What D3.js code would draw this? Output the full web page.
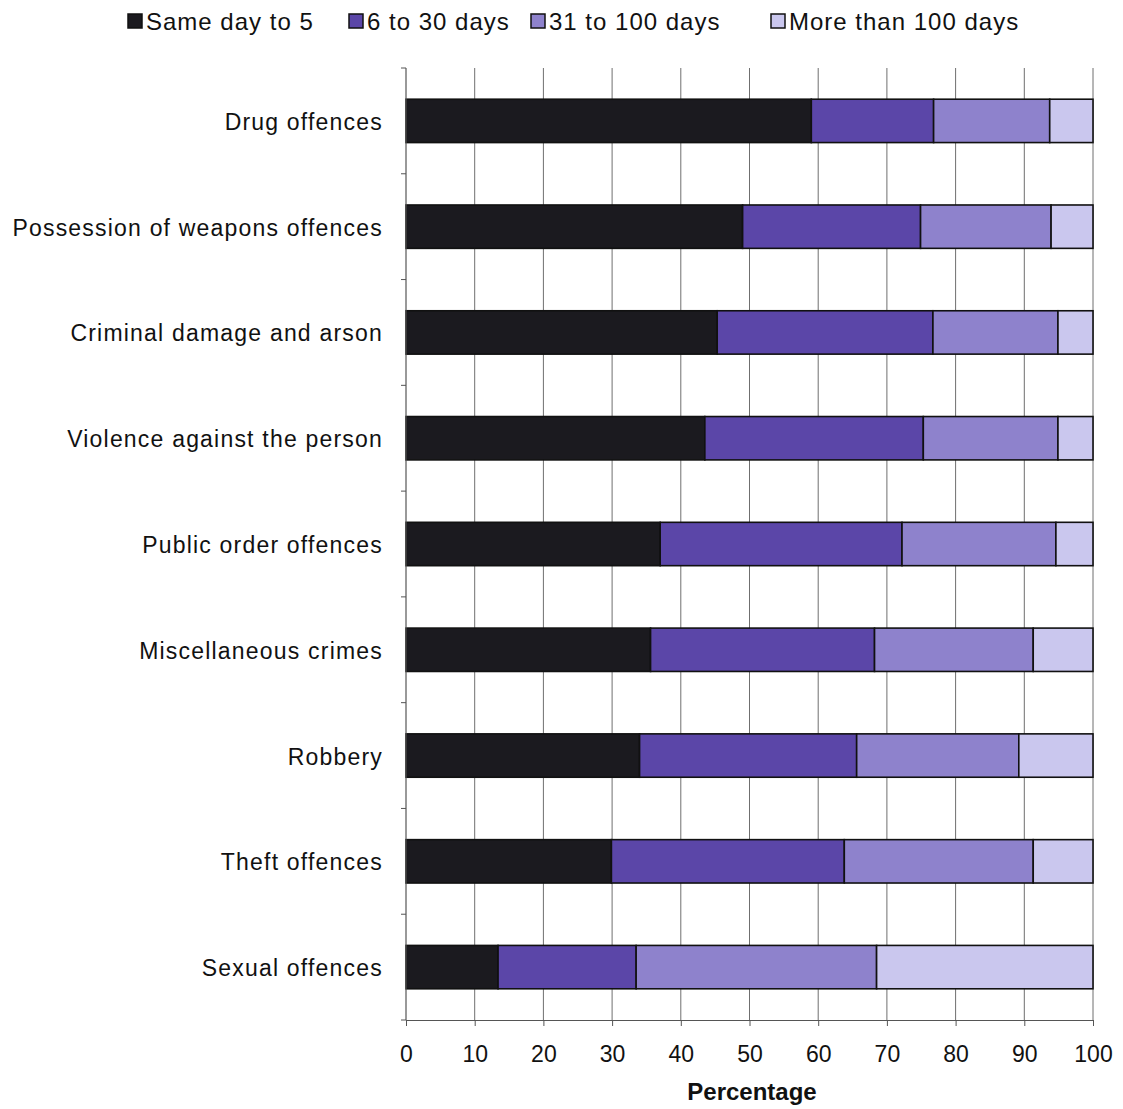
<!DOCTYPE html>
<html><head><meta charset="utf-8">
<script src="https://cdn.jsdelivr.net/npm/d3@7"></script>
<style>body{margin:0;background:#fff;font-family:"Liberation Sans",Arial,sans-serif;}</style>
</head><body>
<svg id="chart" width="1123" height="1109"></svg>
<script>
const categories = ["Drug offences","Possession of weapons offences","Criminal damage and arson","Violence against the person","Public order offences","Miscellaneous crimes","Robbery","Theft offences","Sexual offences"];
const seriesNames = ["Same day to 5","6 to 30 days","31 to 100 days","More than 100 days"];
const sameDayTo5 = [59, 49, 45.3, 43.5, 37, 35.6, 34, 29.9, 13.4];
const days6to30 = [17.8, 25.9, 31.4, 31.8, 35.2, 32.6, 31.6, 33.9, 20.1];
const days31to100 = [16.9, 19, 18.2, 19.6, 22.4, 23.1, 23.6, 27.5, 35];
const moreThan100 = [6.3, 6.1, 5.1, 5.1, 5.4, 8.7, 10.8, 8.7, 31.5];
const xTicks = [0,10,20,30,40,50,60,70,80,90,100];
const colors = ["#1b1a1f","#5b46a8","#8e82cc","#cac7ee"];

const svg = d3.select("#chart");
const x0 = 406, x1 = 1093, yTop = 68, yBot = 1020;
const x = d3.scaleLinear().domain([0,100]).range([x0,x1]);
const y = d3.scaleBand().domain(categories).range([yTop,yBot]).paddingInner(0.59).paddingOuter(0.295);

// gridlines
svg.append("g").selectAll("line").data(xTicks.slice(1)).join("line")
  .attr("x1",d=>x(d)).attr("x2",d=>x(d)).attr("y1",yTop).attr("y2",yBot)
  .attr("stroke","#6f6f6f").attr("stroke-width",1);

const table = categories.map((c,i)=>({cat:c, vals:[sameDayTo5[i],days6to30[i],days31to100[i],moreThan100[i]]}));
const rows = [];
table.forEach(r=>{let acc=0; r.vals.forEach((v,j)=>{rows.push({cat:r.cat,j,start:acc,end:acc+v}); acc+=v;});});

svg.append("g").selectAll("rect").data(rows).join("rect")
  .attr("x",d=>x(d.start)).attr("width",d=>x(d.end)-x(d.start))
  .attr("y",d=>y(d.cat)).attr("height",y.bandwidth())
  .attr("fill",d=>colors[d.j]).attr("stroke","#111").attr("stroke-width",1.6);

// y axis
const yAxis = svg.append("g");
yAxis.append("line").attr("x1",x0).attr("x2",x0).attr("y1",yTop).attr("y2",yBot).attr("stroke","#555").attr("stroke-width",1.2);
const bounds = d3.range(categories.length+1).map(i=>yTop + i*y.step());
yAxis.selectAll("line.tk").data(bounds).join("line").attr("class","tk")
  .attr("x1",x0-5).attr("x2",x0).attr("y1",d=>d).attr("y2",d=>d).attr("stroke","#555");
yAxis.selectAll("text").data(categories).join("text")
  .attr("x",383).attr("y",d=>y(d)+y.bandwidth()/2+1).attr("dy","0.35em")
  .attr("text-anchor","end").attr("font-size",23).attr("letter-spacing","1.2px")
  .attr("fill","#111").text(d=>d);

// x axis
const xAxis = d3.axisBottom(x).tickValues(xTicks).tickSize(6).tickPadding(20);
const gx = svg.append("g").attr("transform",`translate(0,${yBot})`).call(xAxis);
gx.select(".domain").attr("stroke","#555");
gx.selectAll(".tick line").attr("stroke","#555");
gx.selectAll("text").attr("font-size",23).attr("fill","#111").attr("font-family","Liberation Sans, Arial, sans-serif");

svg.append("text").attr("x",752).attr("y",1100).attr("text-anchor","middle")
  .attr("font-size",24).attr("font-weight","bold").attr("fill","#111").text("Percentage");

// legend
const legX = [128, 349, 531, 771];
const leg = svg.append("g");
seriesNames.forEach((n,i)=>{
  leg.append("rect").attr("x",legX[i]).attr("y",14).attr("width",14).attr("height",14)
    .attr("fill",colors[i]).attr("stroke","#111").attr("stroke-width",1.5);
  leg.append("text").attr("x",legX[i]+18).attr("y",22).attr("dy","0.35em")
    .attr("font-size",24).attr("letter-spacing","1px").attr("fill","#111").text(n);
});
</script>
</body></html>
